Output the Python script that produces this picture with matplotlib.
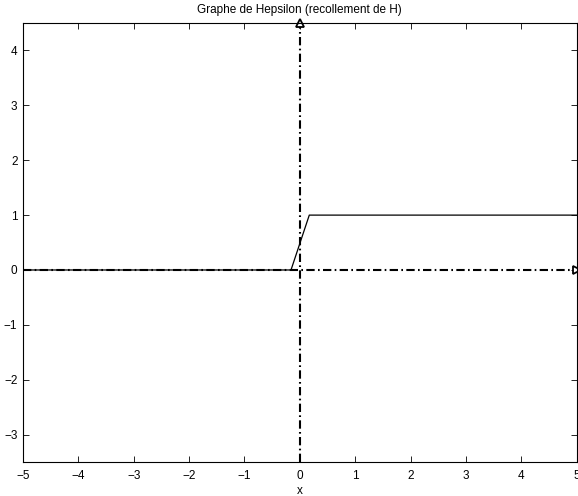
import matplotlib
matplotlib.use("Agg")
import matplotlib.pyplot as plt

x_vals = [-5, -0.16, 0.17, 5]
y_vals = [0, 0, 1, 1]
xlim = (-5, 5)
ylim = (-3.5, 4.5)
xticks = [-5, -4, -3, -2, -1, 0, 1, 2, 3, 4, 5]
yticks = [-3, -2, -1, 0, 1, 2, 3, 4]

plt.rcParams['font.family'] = ['Liberation Sans', 'DejaVu Sans']
fig = plt.figure(figsize=(5.78, 4.96), dpi=100)
ax = fig.add_axes([0.0398, 0.0685, 0.958, 0.885])

ax.plot(x_vals, y_vals, color='black', lw=0.9)
# axes lines with arrows
dash = (4, 1.6, 0.8, 1.6)
ax.plot([xlim[0], xlim[1]], [0, 0], color='black', lw=1.5, dashes=dash, clip_on=False)
ax.plot([0, 0], [ylim[0], ylim[1]], color='black', lw=1.5, dashes=dash, clip_on=False)
ax.plot([xlim[1]], [0], marker='>', ms=6, mfc='white', mec='black', mew=1.3, clip_on=False)
ax.plot([0], [ylim[1]], marker='^', ms=6, mfc='white', mec='black', mew=1.3, clip_on=False)

ax.set_xlim(*xlim)
ax.set_ylim(*ylim)
ax.set_xticks(xticks)
ax.set_yticks(yticks)
ax.tick_params(direction='in', top=True, right=True, labelsize=8.5, length=4, width=0.6)
ax.tick_params(axis='x', pad=6)
ax.tick_params(axis='y', pad=4)
for s in ax.spines.values():
    s.set_linewidth(0.8)
ax.set_title('Graphe de Hepsilon (recollement de H)', fontsize=8.5, pad=7)
ax.set_xlabel('x', fontsize=8.5, labelpad=2)

fig.savefig('out.png', dpi=100)
